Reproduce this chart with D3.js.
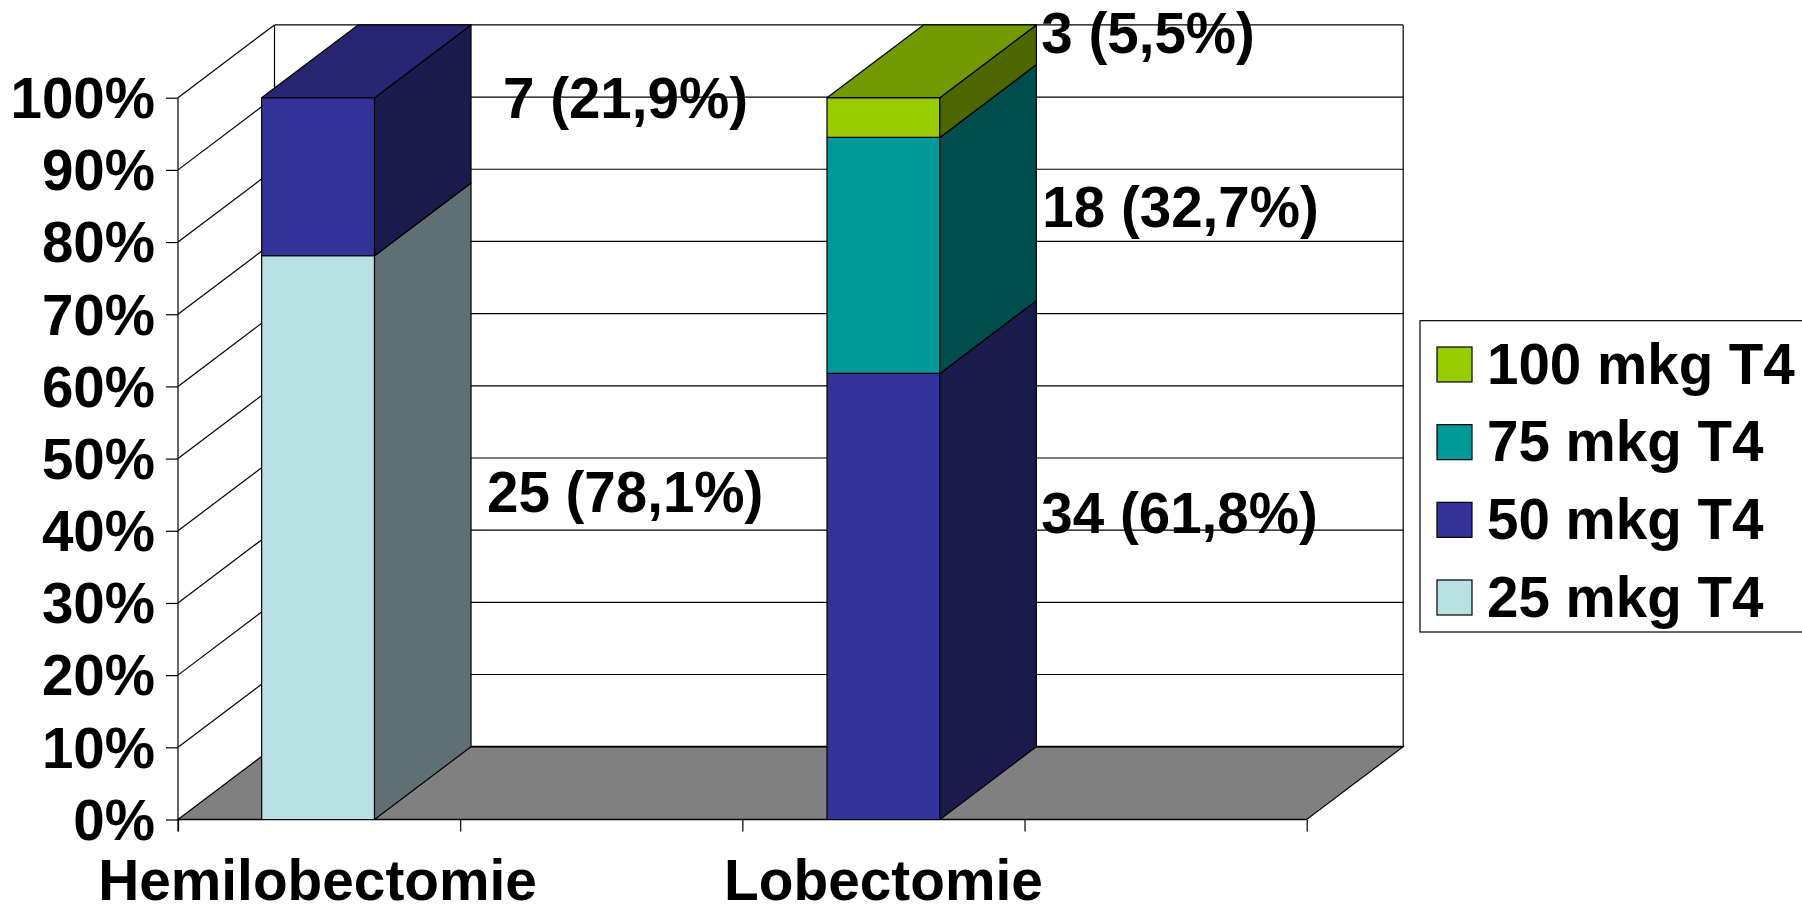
<!DOCTYPE html>
<html>
<head>
<meta charset="utf-8">
<script src="https://cdn.jsdelivr.net/npm/d3@7/dist/d3.min.js"></script>
<style>
html, body { margin: 0; padding: 0; background: #fff; overflow: hidden; }
text { font-family: "Liberation Sans", Arial, sans-serif; font-weight: bold; fill: #000; }
</style>
</head>
<body>
<svg id="chart" width="1802" height="904"></svg>
<script>
// Share of patients per T4 dose, for each type of thyroid surgery
const categories = ["Hemilobectomie", "", "Lobectomie", ""];
const seriesNames = ["25 mkg T4", "50 mkg T4", "75 mkg T4", "100 mkg T4"];
const hemilobectomie = [78.1, 21.9, 0, 0];
const lobectomie = [0, 61.8, 32.7, 5.5];
const hemilobectomieCounts = [25, 7, 0, 0];
const lobectomieCounts = [0, 34, 18, 3];
const frontColors = ["#B9E0E3", "#333399", "#009999", "#99CC00"];
const sideColors = ["#5E7073", "#1A1A4D", "#004D4D", "#4D6600"];
const topColors = ["#8BA8AA", "#262673", "#007373", "#739900"];
const yTicks = d3.range(0, 101, 10);

const plotLeft = 178, plotRight = 1306.7, plotBottom = 819.5, plotTop = 97.7;
const depthX = 96.5, depthY = 72.8;
const fontSize = 56.5;

const svg = d3.select("#chart");
const y = d3.scaleLinear().domain([0, 100]).range([plotBottom, plotTop]);
const xBand = d3.scaleBand().domain(d3.range(categories.length)).range([plotLeft, plotRight]);
const xTicks = d3.scaleLinear().domain([0, categories.length]).range([plotLeft, plotRight]);
const barWidth = xBand.bandwidth() * 0.4;

const line = (x1, y1, x2, y2, w = 1.2) => svg.append("line")
  .attr("x1", x1).attr("y1", y1).attr("x2", x2).attr("y2", y2)
  .attr("stroke", "#000").attr("stroke-width", w);

// Gridlines along the side wall and the back wall
yTicks.forEach(t => {
  if (t > 0) line(plotLeft, y(t), plotLeft + depthX, y(t) - depthY);
  line(plotLeft + depthX, y(t) - depthY, plotRight + depthX, y(t) - depthY);
});
line(plotLeft + depthX, plotTop - depthY, plotLeft + depthX, plotBottom - depthY);
line(plotRight + depthX, plotTop - depthY, plotRight + depthX, plotBottom - depthY);

// Floor
svg.append("polygon")
  .attr("points", [[plotLeft, plotBottom], [plotLeft + depthX, plotBottom - depthY],
                   [plotRight + depthX, plotBottom - depthY], [plotRight, plotBottom]].join(" "))
  .attr("fill", "#808080").attr("stroke", "#000").attr("stroke-width", 1.2);
line(plotLeft + depthX, plotBottom - depthY, plotRight + depthX, plotBottom - depthY, 1.8);

// Axes
const yAxis = svg.append("g").attr("transform", `translate(${plotLeft},0)`)
  .call(d3.axisLeft(y).tickValues(yTicks).tickFormat(d => d + "%").tickSize(12).tickPadding(11));
yAxis.select(".domain").remove();
yAxis.selectAll("line").attr("stroke", "#000").attr("stroke-width", 1.2);
yAxis.selectAll("text").attr("font-size", fontSize).attr("dy", "0.35em");
yAxis.attr("font-family", null).attr("font-size", null);
line(plotLeft, plotTop, plotLeft, plotBottom + 12);

const xAxis = svg.append("g").attr("transform", `translate(0,${plotBottom})`)
  .call(d3.axisBottom(xTicks).ticks(categories.length).tickFormat("").tickSize(12));
xAxis.select(".domain").remove();
xAxis.selectAll("line").attr("stroke", "#000").attr("stroke-width", 1.2);
line(plotLeft, plotBottom, plotRight, plotBottom, 1.4);

svg.append("g").selectAll("text").data(categories).join("text")
  .attr("x", (d, i) => xBand(i) + xBand.bandwidth() / 2 - (i === 0 ? 1.5 : 0))
  .attr("y", 900)
  .attr("text-anchor", "middle").attr("font-size", fontSize + 0.3)
  .text(d => d);

// Stacked 3D bars
const stacks = [
  { slot: 0, nudge: -1, values: hemilobectomie, counts: hemilobectomieCounts },
  { slot: 2, nudge: 0, values: lobectomie, counts: lobectomieCounts }
];
// Hand placement of the value labels relative to the back edge of each bar
const labelOffsets = {
  "0-0": [16, 47], "0-1": [32, 14],
  "2-1": [5, 9], "2-2": [6, 44], "2-3": [5, 8]
};

stacks.forEach(stack => {
  const x0 = xBand(stack.slot) + (xBand.bandwidth() - barWidth) / 2 + stack.nudge;
  const x1 = x0 + barWidth;
  let acc = 0;
  stack.values.forEach((v, i) => {
    if (!v) return;
    const yLow = y(acc), yHigh = y(acc + v);
    acc += v;
    const g = svg.append("g").attr("stroke", "#000").attr("stroke-width", 1.2).attr("stroke-linejoin", "round");
    g.append("rect").attr("x", x0).attr("y", yHigh).attr("width", barWidth).attr("height", yLow - yHigh)
      .attr("fill", frontColors[i]);
    g.append("polygon")
      .attr("points", [[x1, yLow], [x1 + depthX, yLow - depthY], [x1 + depthX, yHigh - depthY], [x1, yHigh]].join(" "))
      .attr("fill", sideColors[i]);
    if (acc > 99.9) {
      g.append("polygon")
        .attr("points", [[x0, yHigh], [x0 + depthX, yHigh - depthY], [x1 + depthX, yHigh - depthY], [x1, yHigh]].join(" "))
        .attr("fill", topColors[i]);
    }
  });
});

// Value labels drawn over everything else
stacks.forEach(stack => {
  const x1 = xBand(stack.slot) + (xBand.bandwidth() + barWidth) / 2 + stack.nudge;
  let acc = 0;
  stack.values.forEach((v, i) => {
    if (!v) return;
    const mid = acc + v / 2;
    acc += v;
    const [dx, dy] = labelOffsets[`${stack.slot}-${i}`];
    svg.append("text")
      .attr("x", x1 + depthX + dx)
      .attr("y", y(mid) - depthY + dy)
      .attr("font-size", fontSize)
      .text(`${stack.counts[i]} (${String(v.toFixed(1)).replace(".", ",")}%)`);
  });
});

// Legend, listed from the top of the stack downwards
const legend = svg.append("g");
legend.append("rect").attr("x", 1420).attr("y", 320.7).attr("width", 420).attr("height", 311.3)
  .attr("fill", "#fff").attr("stroke", "#000").attr("stroke-width", 1.2);
const legendRows = seriesNames.map((name, i) => ({ name, color: frontColors[i] })).reverse();
const legendY = d3.scalePoint().domain(legendRows.map(d => d.name)).range([364.5, 597.5]);
legendRows.forEach(d => {
  legend.append("rect")
    .attr("x", 1437).attr("y", legendY(d.name) - 17.5).attr("width", 35).attr("height", 35)
    .attr("fill", d.color).attr("stroke", "#000").attr("stroke-width", 1.2);
  legend.append("text").attr("x", 1487).attr("y", legendY(d.name) + 19)
    .attr("font-size", fontSize).text(d.name);
});
</script>
</body>
</html>
